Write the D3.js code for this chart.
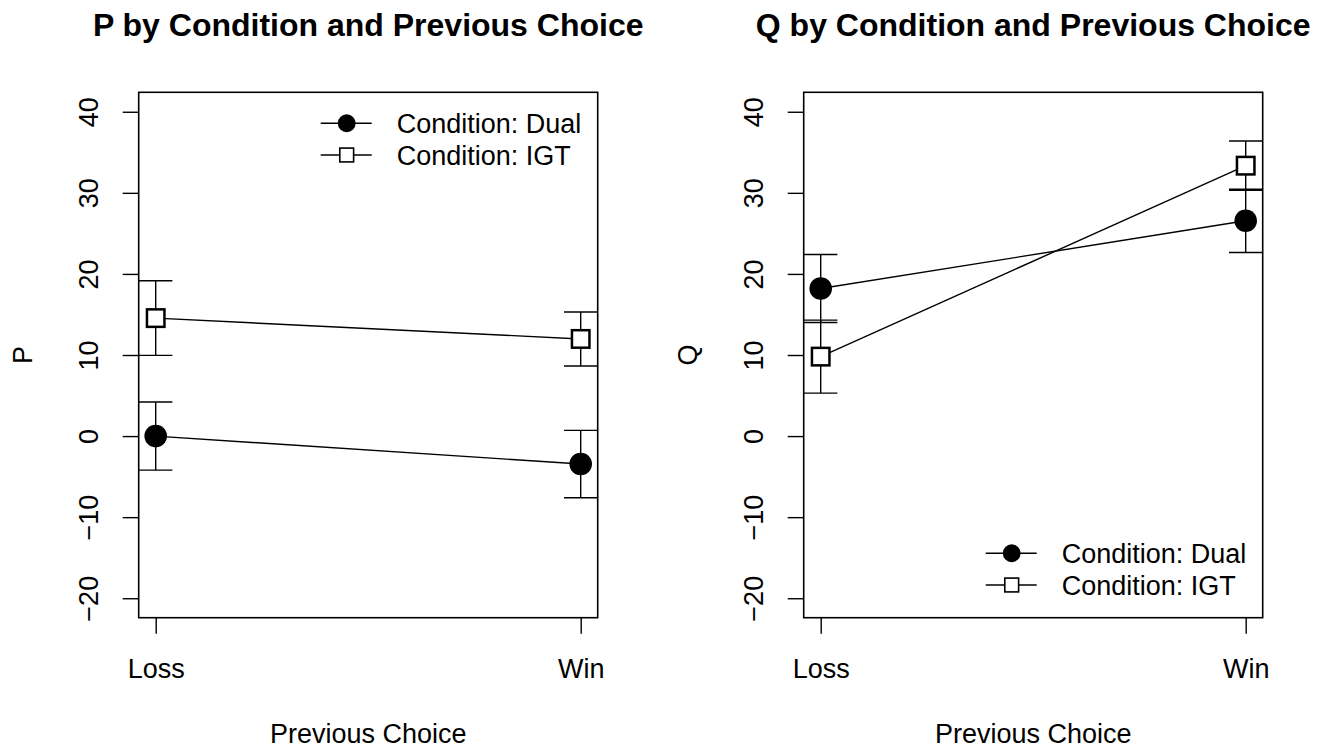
<!DOCTYPE html>
<html>
<head>
<meta charset="utf-8">
<script src="https://cdn.jsdelivr.net/npm/d3@7"></script>
<style>
  body { margin: 0; background: #fff; }
  svg { font-family: "Liberation Sans", Arial, Helvetica, sans-serif; }
</style>
</head>
<body>
<svg id="chart" width="1320" height="748"></svg>
<script>
// data
var prevChoice = ["Loss", "Win"];
var conditions = ["Dual", "IGT"];
var yTicks = [-20, -10, 0, 10, 20, 30, 40];

var pDual = [0.0, -3.45], pDualErr = [4.2, 4.15];
var pIGT = [14.55, 11.98], pIGTErr = [4.6, 3.33];
var qDual = [18.2, 26.55], qDualErr = [4.2, 3.9];
var qIGT = [9.8, 33.35], qIGTErr = [4.5, 3.05];

var svg = d3.select("#chart");

var box = { top: 92.3, bottom: 617.7, width: 459 };

function panel(left, title, ylab, dual, dualErr, igt, igtErr, legendPos) {
    var right = left + box.width;
    var x = d3.scaleLinear().domain([0.96, 2.04]).range([left, right]),
        y = d3.scaleLinear().domain([-22.4, 42.4]).range([box.bottom, box.top]);

    var g = svg.append("g");

    // title
    g.append("text")
        .attr("x", (left + right) / 2)
        .attr("y", 36)
        .attr("text-anchor", "middle")
        .attr("font-size", "32px")
        .attr("font-weight", "bold")
        .text(title);

    // y axis
    var ya = g.append("g")
        .attr("transform", "translate(" + left + ",0)")
        .call(d3.axisLeft(y).tickValues(yTicks).tickSize(16).tickSizeOuter(0));
    ya.select(".domain").remove();
    ya.selectAll(".tick line").attr("stroke", "#000").attr("stroke-width", 1.4);
    ya.selectAll(".tick text")
        .attr("x", null).attr("dy", null)
        .attr("transform", "translate(-40.4,0) rotate(-90)")
        .attr("text-anchor", "middle")
        .attr("font-size", "27px")
        .attr("font-family", "Liberation Sans, Arial, sans-serif")
        .attr("fill", "#000");

    // x axis
    var xa = g.append("g")
        .attr("transform", "translate(0," + box.bottom + ")")
        .call(d3.axisBottom(x).tickValues([1, 2]).tickFormat(function (d) { return prevChoice[d - 1]; })
            .tickSize(16).tickSizeOuter(0));
    xa.select(".domain").remove();
    xa.selectAll(".tick line").attr("stroke", "#000").attr("stroke-width", 1.4);
    xa.selectAll(".tick text")
        .attr("dy", null)
        .attr("y", 60)
        .attr("font-size", "27px")
        .attr("font-family", "Liberation Sans, Arial, sans-serif")
        .attr("fill", "#000");

    // axis titles
    g.append("text")
        .attr("x", (left + right) / 2)
        .attr("y", 742.7)
        .attr("text-anchor", "middle")
        .attr("font-size", "27px")
        .text("Previous Choice");

    g.append("text")
        .attr("transform", "translate(" + (left - 107) + "," + ((box.top + box.bottom) / 2) + ") rotate(-90)")
        .attr("text-anchor", "middle")
        .attr("font-size", "27px")
        .text(ylab);

    // plot frame
    g.append("rect")
        .attr("x", left).attr("y", box.top)
        .attr("width", box.width).attr("height", box.bottom - box.top)
        .attr("fill", "none").attr("stroke", "#000").attr("stroke-width", 1.6);

    var series = [
        { name: "Dual", vals: dual, err: dualErr },
        { name: "IGT", vals: igt, err: igtErr }
    ];

    var line = d3.line()
        .x(function (d, i) { return x(i + 1); })
        .y(function (d) { return y(d); });

    series.forEach(function (s) {
        g.append("path")
            .attr("d", line(s.vals))
            .attr("fill", "none")
            .attr("stroke", "#000")
            .attr("stroke-width", 1.4);
    });

    // error bars
    series.forEach(function (s) {
        s.vals.forEach(function (v, i) {
            var cx = x(i + 1), lo = y(v - s.err[i]), hi = y(v + s.err[i]);
            g.append("line").attr("x1", cx).attr("x2", cx).attr("y1", lo).attr("y2", hi)
                .attr("stroke", "#000").attr("stroke-width", 1.4);
            [lo, hi].forEach(function (yy) {
                g.append("line").attr("x1", cx - 16.7).attr("x2", cx + 16.7).attr("y1", yy).attr("y2", yy)
                    .attr("stroke", "#000").attr("stroke-width", 1.4);
            });
        });
    });

    // points
    series.forEach(function (s) {
        s.vals.forEach(function (v, i) {
            drawPoint(g, s.name, x(i + 1), y(v), 1);
        });
    });

    // legend
    conditions.forEach(function (c, i) {
        var ly = legendPos.y + i * 31.7;
        var lx = right - 277;
        g.append("line").attr("x1", lx).attr("x2", lx + 51).attr("y1", ly).attr("y2", ly)
            .attr("stroke", "#000").attr("stroke-width", 1.4);
        drawPoint(g, c, lx + 26, ly, 0.79);
        g.append("text")
            .attr("x", lx + 76)
            .attr("y", ly)
            .attr("dy", "0.36em")
            .attr("font-size", "27px")
            .text("Condition: " + c);
    });
}

function drawPoint(g, name, cx, cy, k) {
    if (name === "Dual") {
        g.append("circle").attr("cx", cx).attr("cy", cy).attr("r", 11.3 * k).attr("fill", "#000");
    } else {
        var s = 17.5 * k;
        g.append("rect").attr("x", cx - s / 2).attr("y", cy - s / 2).attr("width", s).attr("height", s)
            .attr("fill", "#fff").attr("stroke", "#000").attr("stroke-width", k < 1 ? 1.6 : 2.5);
    }
}

panel(138.7, "P by Condition and Previous Choice", "P", pDual, pDualErr, pIGT, pIGTErr, { y: 123.3 });
panel(803.7, "Q by Condition and Previous Choice", "Q", qDual, qDualErr, qIGT, qIGTErr, { y: 553.3 });
</script>
</body>
</html>
